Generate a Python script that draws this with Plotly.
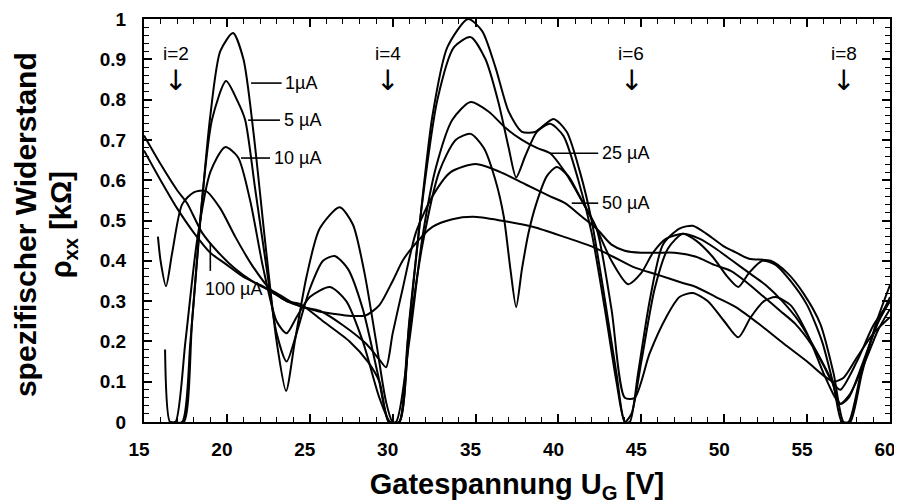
import plotly.graph_objects as go

# ---- data ----
x_1uA = [16.6,17.3,17.8,18.4,19.0,19.6,20.37,21.0,21.6,22.3,23.0,23.57,24.1,24.8,25.6,26.8,27.6,28.3,29.0,29.6,30.0,30.4,30.9,31.6,32.4,33.3,34.55,35.4,36.2,37.0,37.8,38.6,39.7,40.5,41.3,42.0,42.7,43.5,44.0,44.3,44.8,45.5,46.3,47.3,48.1,49.0,50.0,50.5,51.5,52.8,53.8,54.8,55.8,56.6,57.2,57.6,58.3,59.2,60.0]
y_1uA = [0.0,0.0,0.2,0.5,0.76,0.92,0.965,0.9,0.72,0.45,0.2,0.077,0.2,0.36,0.48,0.533,0.49,0.37,0.2,0.05,0.0,0.0,0.2,0.48,0.76,0.93,1.0,0.97,0.88,0.77,0.72,0.72,0.752,0.72,0.62,0.5,0.33,0.12,0.0,0.0,0.12,0.3,0.44,0.48,0.487,0.465,0.435,0.425,0.405,0.4,0.37,0.318,0.243,0.12,0.0,0.0,0.12,0.25,0.34]

x_5uA = [16.8,17.4,17.9,18.5,19.1,19.95,20.6,21.1,21.7,22.4,23.0,23.6,24.2,25.0,25.8,26.5,27.3,28.2,29.1,29.8,30.4,31.0,31.8,32.7,33.7,34.7,35.6,36.4,37.0,37.45,38.0,38.7,39.5,40.3,41.2,42.0,42.8,43.5,44.0,44.4,45.0,45.8,46.6,47.5,48.3,49.3,50.2,50.85,51.5,52.3,53.1,54.0,55.0,55.9,56.6,57.1,57.5,58.3,59.2,60.0]
y_5uA = [0.0,0.0,0.25,0.55,0.75,0.846,0.8,0.75,0.58,0.38,0.22,0.15,0.22,0.33,0.4,0.412,0.38,0.28,0.12,0.0,0.0,0.25,0.55,0.8,0.93,0.955,0.9,0.79,0.68,0.607,0.66,0.72,0.74,0.71,0.6,0.47,0.28,0.1,0.0,0.02,0.15,0.33,0.43,0.467,0.45,0.41,0.36,0.335,0.37,0.4,0.39,0.35,0.29,0.2,0.09,0.0,0.0,0.13,0.24,0.3]

x_10uA = [16.27,16.57,16.9,17.5,18.2,19.0,19.89,20.67,21.4,22.2,23.0,23.6,24.2,25.0,26.22,27.2,28.2,29.2,29.85,30.4,31.0,31.8,32.8,33.8,34.7,35.5,36.2,36.7,37.1,37.45,37.8,38.2,38.65,39.3,39.9,40.6,41.4,42.3,43.2,44.0,44.6,45.5,46.5,47.3,48.1,49.0,50.0,50.85,51.6,52.4,53.1,54.0,55.0,56.0,56.7,57.0,57.6,58.5,59.3,60.0]
y_10uA = [0.18,0.0,0.0,0.2,0.45,0.62,0.682,0.657,0.55,0.38,0.25,0.22,0.26,0.31,0.335,0.3,0.2,0.06,0.0,0.0,0.22,0.44,0.62,0.7,0.715,0.68,0.6,0.51,0.38,0.285,0.38,0.47,0.54,0.61,0.633,0.61,0.55,0.48,0.28,0.06,0.06,0.17,0.26,0.31,0.32,0.3,0.25,0.21,0.26,0.3,0.31,0.29,0.22,0.12,0.06,0.045,0.07,0.15,0.23,0.28]

x_25uA = [15.84,16.0,16.33,16.7,17.3,18.0,18.74,19.6,20.5,21.5,22.6,23.6,24.4,25.8,27.4,28.5,29.2,29.75,30.2,31.0,31.8,32.6,33.6,34.7,35.8,36.8,37.8,38.7,39.5,40.4,41.4,42.3,43.2,44.2,45.0,45.7,46.5,47.5,48.5,49.5,50.5,51.5,52.5,53.5,54.5,55.5,56.5,57.0,57.5,58.3,59.2,60.0]
y_25uA = [0.46,0.4,0.337,0.42,0.54,0.57,0.573,0.53,0.46,0.39,0.33,0.3,0.293,0.25,0.2,0.15,0.1,0.0,0.0,0.2,0.46,0.63,0.75,0.794,0.77,0.73,0.7,0.68,0.667,0.62,0.55,0.48,0.4,0.342,0.37,0.42,0.455,0.467,0.455,0.43,0.4,0.37,0.34,0.3,0.25,0.18,0.1,0.045,0.06,0.14,0.24,0.31]

x_50uA = [15.0,16.0,17.0,18.0,19.0,20.0,21.0,22.0,23.0,24.0,24.6,25.6,27.0,28.4,29.2,29.6,30.0,30.6,31.4,32.4,33.5,35.0,36.5,38.0,39.5,40.4,41.4,42.3,43.2,44.0,45.0,46.0,47.0,48.3,49.4,50.4,51.4,52.4,53.4,54.3,55.3,56.0,56.5,57.0,58.0,59.0,60.0]
y_50uA = [0.674,0.6,0.53,0.47,0.42,0.39,0.36,0.34,0.32,0.295,0.285,0.276,0.24,0.194,0.155,0.136,0.22,0.33,0.47,0.56,0.62,0.64,0.62,0.59,0.56,0.543,0.51,0.48,0.44,0.425,0.42,0.42,0.42,0.41,0.39,0.375,0.345,0.31,0.275,0.243,0.19,0.14,0.1,0.08,0.15,0.24,0.3]

x_100uA = [15.0,16.0,17.0,17.6,18.5,19.5,20.5,21.5,22.6,23.6,24.6,25.5,26.5,27.5,28.4,29.2,30.0,30.6,31.2,32.4,33.6,34.85,36.5,38.5,40.3,42.1,43.3,44.5,46.0,47.5,48.3,49.5,50.7,52.2,53.6,55.0,56.0,56.6,57.2,58.0,59.0,60.0]
y_100uA = [0.711,0.64,0.575,0.543,0.47,0.42,0.38,0.35,0.325,0.3,0.285,0.275,0.268,0.263,0.265,0.29,0.35,0.4,0.434,0.484,0.503,0.509,0.5,0.484,0.46,0.434,0.41,0.385,0.365,0.345,0.335,0.31,0.285,0.24,0.194,0.15,0.115,0.1,0.11,0.16,0.22,0.26]

series = [
    ("1µA", x_1uA, y_1uA),
    ("5 µA", x_5uA, y_5uA),
    ("10 µA", x_10uA, y_10uA),
    ("25 µA", x_25uA, y_25uA),
    ("50 µA", x_50uA, y_50uA),
    ("100 µA", x_100uA, y_100uA),
]

x_ticks = [15, 20, 25, 30, 35, 40, 45, 50, 55, 60]
y_ticks = [0, 0.1, 0.2, 0.3, 0.4, 0.5, 0.6, 0.7, 0.8, 0.9, 1]
y_ticktext = ["0", "0.1", "0.2", "0.3", "0.4", "0.5", "0.6", "0.7", "0.8", "0.9", "1"]

# filling-factor markers
i_labels = ["i=2", "i=4", "i=6", "i=8"]
i_pos = [16.9, 29.7, 44.4, 57.2]

# curve labels: (text, curve-point x, curve-point y, text x)
lbl_text = ["1µA", "5 µA", "10 µA", "25 µA", "50 µA"]
lbl_px = [21.46, 21.28, 20.85, 39.5, 40.8]
lbl_py = [0.841, 0.749, 0.655, 0.667, 0.543]
lbl_tx = [23.4, 23.3, 22.7, 42.5, 42.5]

FONT = "Liberation Sans, Arial, sans-serif"

fig = go.Figure()
for name, xs, ys in series:
    fig.add_trace(go.Scatter(x=xs, y=ys, mode="lines", name=name,
                             line=dict(color="black", width=2, shape="spline", smoothing=0.7),
                             showlegend=False, hoverinfo="skip"))

annotations = []
for t, px, py, tx in zip(lbl_text, lbl_px, lbl_py, lbl_tx):
    annotations.append(dict(x=tx, y=py, xref="x", yref="y", text=t, showarrow=False,
                            xanchor="left", yanchor="middle",
                            font=dict(family=FONT, size=18, color="black")))
    fig.add_shape(type="line", x0=px, x1=tx - 0.1, y0=py, y1=py, xref="x", yref="y",
                  line=dict(color="black", width=1.6))
# 100 µA label with vertical leader
annotations.append(dict(x=20.4, y=0.33, xref="x", yref="y", text="100 µA", showarrow=False,
                        xanchor="center", yanchor="middle",
                        font=dict(family=FONT, size=18, color="black")))
fig.add_shape(type="line", x0=19.0, x1=19.0, y0=0.445, y1=0.375, xref="x", yref="y",
              line=dict(color="black", width=1.6))

for t, xp in zip(i_labels, i_pos):
    annotations.append(dict(x=xp, y=0.914, xref="x", yref="y", text=t, showarrow=False,
                            xanchor="center", yanchor="middle",
                            font=dict(family=FONT, size=19, color="black")))
    annotations.append(dict(x=xp, y=0.848, xref="x", yref="y", text="↓", showarrow=False,
                            xanchor="center", yanchor="middle",
                            font=dict(family="DejaVu Sans", size=28, color="black")))

# y-axis title (two lines)
annotations.append(dict(x=-0.158, y=0.489, xref="paper", yref="paper", text="<b>spezifischer Widerstand</b>",
                        showarrow=False, textangle=-90, xanchor="center", yanchor="middle",
                        font=dict(family=FONT, size=30, color="black")))
annotations.append(dict(x=-0.108, y=0.489, xref="paper", yref="paper", text="<b>ρ<sub>xx</sub> [kΩ]</b>",
                        showarrow=False, textangle=-90, xanchor="center", yanchor="middle",
                        font=dict(family=FONT, size=29, color="black")))

axis_common = dict(showline=True, linecolor="black", linewidth=2, mirror="allticks",
                   ticks="inside", ticklen=8, tickwidth=1.5, tickcolor="black",
                   showgrid=False, zeroline=False, automargin=False,
                   ticklabeloverflow="allow",
                   tickfont=dict(family=FONT, size=19, color="black", weight="bold"))

fig.update_layout(
    template="none",
    width=902, height=503,
    margin=dict(l=136, r=20, t=11, b=89),
    paper_bgcolor="white", plot_bgcolor="white",
    annotations=annotations,
    xaxis=dict(range=[15, 60], tickvals=x_ticks, ticktext=[str(v) for v in x_ticks],
               ticklabelstandoff=9, ticklabelshift=-5,
               minor=dict(dtick=1, ticks="inside", ticklen=5, tickcolor="black", tickwidth=1.2),
               title=dict(text="<b>Gatespannung U<sub>G</sub> [V]</b>", standoff=15,
                          font=dict(family=FONT, size=29, color="black")),
               **axis_common),
    yaxis=dict(range=[0, 1], tickvals=y_ticks, ticktext=y_ticktext,
               ticklabelstandoff=12,
               minor=dict(dtick=0.02, ticks="inside", ticklen=5, tickcolor="black", tickwidth=1.2),
               **axis_common),
)

fig.write_html("out.html")
